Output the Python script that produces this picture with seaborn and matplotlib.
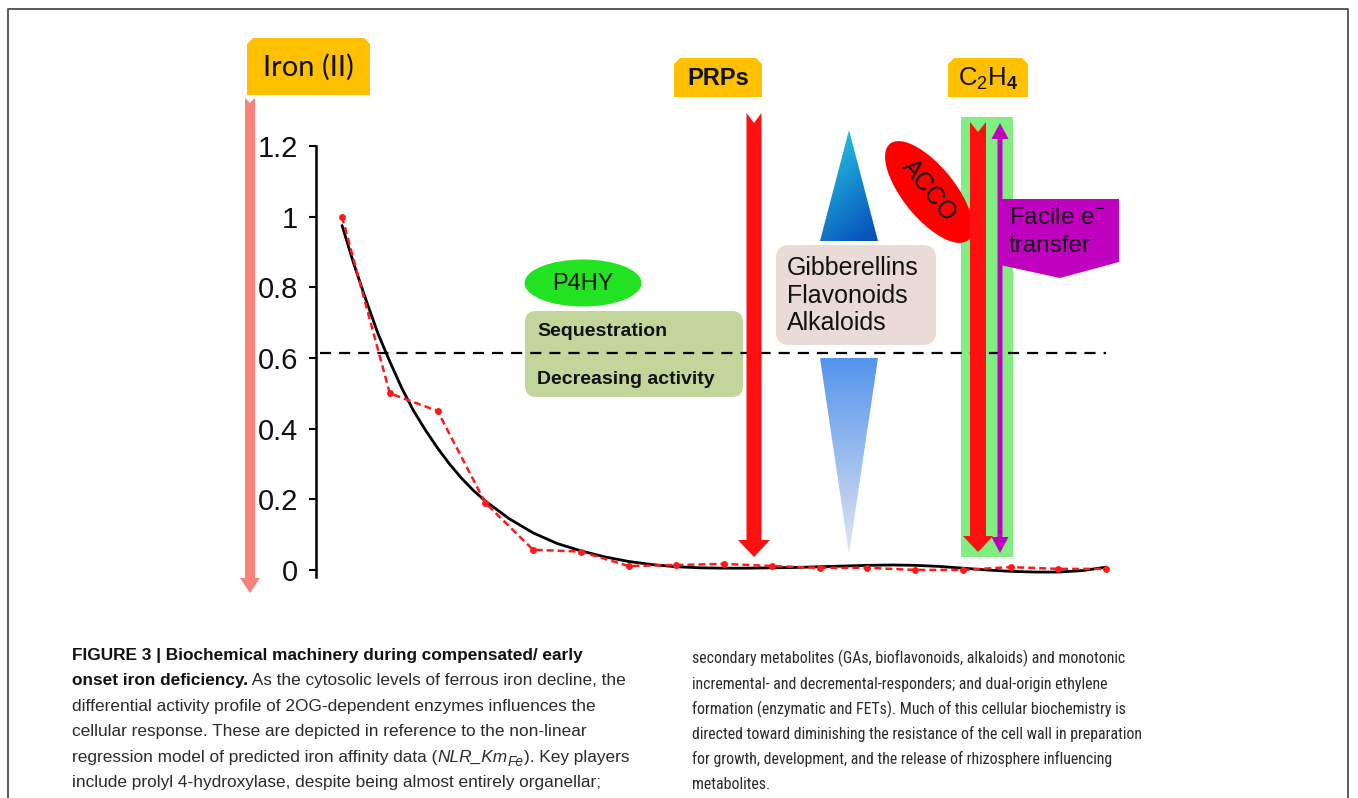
import numpy as np
import pandas as pd
import matplotlib
matplotlib.use("Agg")
import matplotlib.pyplot as plt
import seaborn as sns
from matplotlib import font_manager as fm
from matplotlib.patches import Polygon, Ellipse, FancyBboxPatch, Rectangle

# ---------------- data ----------------
obs_x = [1, 2, 3, 4, 5, 6, 7, 8, 9, 10, 11, 12, 13, 14, 15, 16, 17]
obs_y = [1.00, 0.50, 0.45, 0.19, 0.057, 0.052, 0.011, 0.014, 0.017, 0.011,
         0.006, 0.006, 0.000, 0.000, 0.008, 0.003, 0.003]

fit_x = [1.0, 1.25, 1.5, 1.75, 2.0, 2.25, 2.5, 2.75, 3.0, 3.25, 3.5, 3.75,
         4.0, 4.5, 5.0, 5.5, 6.0, 6.5, 7.0, 7.5, 8.0, 8.5, 9.0, 9.5, 10.0,
         10.5, 11.0, 11.5, 12.0, 12.5, 13.0, 13.5, 14.0, 14.5, 15.0, 15.5,
         16.0, 16.5, 17.0]
fit_y = [0.975, 0.865, 0.765, 0.67, 0.59, 0.515, 0.45, 0.395, 0.345, 0.30,
         0.26, 0.225, 0.195, 0.145, 0.105, 0.075, 0.054, 0.037, 0.024, 0.015,
         0.009, 0.006, 0.005, 0.005, 0.006, 0.007, 0.009, 0.011, 0.013, 0.014,
         0.013, 0.010, 0.005, 0.000, -0.004, -0.006, -0.006, -0.002, 0.008]

threshold_y = 0.615
y_ticks = [0, 0.2, 0.4, 0.6, 0.8, 1.0, 1.2]
y_tick_labels = ["0", "0.2", "0.4", "0.6", "0.8", "1", "1.2"]

caption_left = [
    [("FIGURE 3 | Biochemical machinery during compensated/ early", "bold")],
    [("onset iron deficiency.", "bold"),
     (" As the cytosolic levels of ferrous iron decline, the", "normal")],
    [("differential activity profile of 2OG-dependent enzymes influences the", "normal")],
    [("cellular response. These are depicted in reference to the non-linear", "normal")],
    [("regression model of predicted iron affinity data (", "normal"),
     ("NLR_Km", "italic"), ("Fe", "italic_sub"), ("). Key players", "normal")],
    [("include prolyl 4-hydroxylase, despite being almost entirely organellar;", "normal")],
]
caption_right = [
    [("secondary metabolites (GAs, bioflavonoids, alkaloids) and monotonic", "normal")],
    [("incremental- and decremental-responders; and dual-origin ethylene", "normal")],
    [("formation (enzymatic and FETs). Much of this cellular biochemistry is", "normal")],
    [("directed toward diminishing the resistance of the cell wall in preparation", "normal")],
    [("for growth, development, and the release of rhizosphere influencing", "normal")],
    [("metabolites.", "normal")],
]

# ---------------- style ----------------
sns.set_theme(style="white")
plt.rcParams['font.family'] = ['Liberation Sans', 'DejaVu Sans']
plt.rcParams['mathtext.fontset'] = 'custom'
plt.rcParams['mathtext.rm'] = 'Liberation Sans'
plt.rcParams['mathtext.it'] = 'Liberation Sans:italic'
plt.rcParams['mathtext.bf'] = 'Liberation Sans:bold'


def pick_condensed():
    names = {f.name for f in fm.fontManager.ttflist}
    for p in ["Liberation Sans Narrow", "Arial Narrow", "Roboto Condensed",
              "Open Sans Condensed", "Noto Sans Condensed", "DejaVu Sans Condensed"]:
        if p in names:
            return [p, "Liberation Sans", "DejaVu Sans"], "normal"
    for fam in ["Noto Sans", "Open Sans", "Roboto", "DejaVu Sans"]:
        for f in fm.fontManager.ttflist:
            if f.name == fam and str(f.stretch) in ("condensed", "semi-condensed"):
                return [fam, "Liberation Sans", "DejaVu Sans"], "condensed"
    return ["Liberation Sans", "DejaVu Sans"], "normal"


narrow_family, narrow_stretch = pick_condensed()

W, H = 1358, 798
fig = plt.figure(figsize=(W / 100, H / 100), dpi=100, facecolor='white')


def px_axes(z):
    a = fig.add_axes([0, 0, 1, 1], zorder=z)
    a.set_xlim(0, W)
    a.set_ylim(H, 0)
    a.axis('off')
    return a


back = px_axes(0)

# ---------------- data axes ----------------
ax_l, ax_r, ax_t, ax_b = 316, 1130, 146, 577
ax = fig.add_axes([ax_l / W, 1 - ax_b / H, (ax_r - ax_l) / W, (ax_b - ax_t) / H], zorder=1)
ax.set_facecolor('none')

df_fit = pd.DataFrame({"x": fit_x, "y": fit_y})
df_obs = pd.DataFrame({"x": obs_x, "y": obs_y})
sns.lineplot(data=df_fit, x="x", y="y", color="black", lw=2.0, ax=ax, zorder=3)
sns.lineplot(data=df_obs, x="x", y="y", color="#FF1A1A", lw=1.8,
             linestyle=(0, (2.8, 1.6)), marker="o", markersize=5,
             markeredgewidth=0, ax=ax, zorder=4)
ax.axhline(threshold_y, xmin=0.005, xmax=0.97, color="black", lw=1.6,
           linestyle=(0, (5, 3.6)), zorder=2)

ax.set_xlim(0.455, 17.5)
ax.set_ylim(-0.02, 1.2)
ax.set_xticks([])
ax.set_yticks(y_ticks)
ax.set_yticklabels(y_tick_labels, fontsize=21, color="#111111")
ax.tick_params(axis="y", left=True, direction="out", length=5, width=1.5,
               color="black", pad=8)
ax.set_xlabel("")
ax.set_ylabel("")
sns.despine(ax=ax, top=True, right=True, bottom=True)
ax.spines["left"].set_color("black")
ax.spines["left"].set_linewidth(1.8)

front = px_axes(2)

# ---------------- background decorations ----------------
back.plot([8, 8, 1348, 1348], [H + 2, 9, 9, H + 2], color="#4d4d4d", lw=1.3, zorder=1)

back.add_patch(FancyBboxPatch((525, 311), 218, 86,
                              boxstyle="round,pad=0,rounding_size=11",
                              fc="#C2D59B", ec="none", zorder=2))
back.add_patch(Ellipse((583, 283), 117, 47, fc="#22E322", ec="none", zorder=2))
back.add_patch(FancyBboxPatch((776, 245), 160, 100,
                              boxstyle="round,pad=0,rounding_size=13",
                              fc="#EBDBD7", ec="none", zorder=2))


def gradient_poly(axh, pts, c_a, c_b, wy, wx, z):
    poly = Polygon(pts, closed=True, fc="none", ec="none", zorder=z)
    axh.add_patch(poly)
    xs = [p[0] for p in pts]
    ys = [p[1] for p in pts]
    x0, x1, y0, y1 = min(xs), max(xs), min(ys), max(ys)
    ty = np.linspace(0, 1, 200)[:, None]
    tx = np.linspace(0, 1, 60)[None, :]
    t = np.clip(wy * ty + wx * tx, 0, 1)[..., None]
    img = np.array(c_a)[None, None, :] * (1 - t) + np.array(c_b)[None, None, :] * t
    im = axh.imshow(img, extent=(x0, x1, y1, y0), origin="upper", aspect="auto",
                    zorder=z, interpolation="bilinear")
    im.set_clip_path(poly)


gradient_poly(back, [(849, 130), (878, 241), (820, 241)],
              (0.16, 0.82, 0.90), (0.03, 0.33, 0.74), 0.75, 0.35, 2)
gradient_poly(back, [(820, 358), (878, 358), (849, 554)],
              (0.33, 0.58, 0.93), (0.88, 0.90, 0.95), 1.0, 0.0, 2)

back.add_patch(Rectangle((961, 117), 52, 440, fc="#80EE80", ec="none", zorder=2))
back.add_patch(Polygon([(1000, 199), (1119, 199), (1119, 262), (1060, 278), (1000, 265)],
                       closed=True, fc="#BF00BF", ec="none", zorder=2))
back.add_patch(Ellipse((929, 192), 124, 52, angle=51, fc="#FF0000", ec="none", zorder=3))

# ---------------- foreground decorations ----------------


def down_arrow(axh, cx, top, tip, shaft_w, head_w, head_len, notch, color, z=5):
    hw, hh = shaft_w / 2, head_w / 2
    pts = [(cx - hw, top), (cx, top + notch), (cx + hw, top),
           (cx + hw, tip - head_len), (cx + hh, tip - head_len), (cx, tip),
           (cx - hh, tip - head_len), (cx - hw, tip - head_len)]
    axh.add_patch(Polygon(pts, closed=True, fc=color, ec="none", zorder=z))


def double_arrow(axh, cx, top, bottom, shaft_w, head_w, head_len, color, z=5):
    hw, hh = shaft_w / 2, head_w / 2
    pts = [(cx, top), (cx + hh, top + head_len), (cx + hw, top + head_len),
           (cx + hw, bottom - head_len), (cx + hh, bottom - head_len), (cx, bottom),
           (cx - hh, bottom - head_len), (cx - hw, bottom - head_len),
           (cx - hw, top + head_len), (cx - hh, top + head_len)]
    axh.add_patch(Polygon(pts, closed=True, fc=color, ec="none", zorder=z))


def tag(axh, x0, y0, x1, y1, text, c=6, **kw):
    pts = [(x0, y1), (x0, y0 + c), (x0 + c, y0), (x1 - c, y0), (x1, y0 + c), (x1, y1)]
    axh.add_patch(Polygon(pts, closed=True, fc="#FFC000", ec="none", zorder=5))
    axh.text((x0 + x1) / 2, (y0 + y1) / 2 + 1, text, ha="center", va="center",
             zorder=6, color="#111111", **kw)


down_arrow(front, 250, 98, 593, 10, 20, 15, 5, "#F7827B")
down_arrow(front, 754, 113, 557, 15, 32, 17, 10, "#FF0F0F")
down_arrow(front, 978, 122, 552, 16, 30, 16, 10, "#FF0F0F")
double_arrow(front, 1000, 123, 553, 5, 17, 16, "#BF00BF")

tag(front, 247, 38, 370, 95, "Iron (II)", fontsize=21,
    family=["Lato", "Liberation Sans", "DejaVu Sans"])
tag(front, 674, 58, 762, 97, "PRPs", fontsize=17, fontweight="bold")
tag(front, 948, 58, 1028, 97, r"C$_2$H$_\mathbf{4}$", fontsize=18.5)

front.text(583, 284, "P4HY", ha="center", va="center", fontsize=17, color="#111111", zorder=6)
front.text(537, 331, "Sequestration", ha="left", va="center", fontsize=14,
           fontweight="bold", color="#111111", zorder=6)
front.text(537, 379, "Decreasing activity", ha="left", va="center", fontsize=14,
           fontweight="bold", color="#111111", zorder=6)
for lab, yy in zip(["Gibberellins", "Flavonoids", "Alkaloids"], [268, 296, 323]):
    front.text(787, yy, lab, ha="left", va="center", fontsize=18, color="#111111", zorder=6)
front.text(929, 191, "ACCO", ha="center", va="center", fontsize=18, rotation=-51,
           rotation_mode="anchor", color="#111111", zorder=6)
front.text(1009, 218, r"Facile e$^{-}$", ha="left", va="center", fontsize=17.5,
           color="#111111", zorder=6)
front.text(1009, 246, "transfer", ha="left", va="center", fontsize=17.5,
           color="#111111", zorder=6)

# ---------------- caption ----------------
renderer = fig.canvas.get_renderer()


def text_width(s, **kw):
    t1 = front.text(0, 0, s + "x", **kw)
    t2 = front.text(0, 0, "x", **kw)
    w = t1.get_window_extent(renderer).width - t2.get_window_extent(renderer).width
    t1.remove()
    t2.remove()
    return w


def style_kw(style, size, family, stretch):
    kw = dict(fontsize=size, family=family, fontstretch=stretch, color="#2b2b2b")
    if style == "bold":
        kw.update(fontweight="bold", color="#111111")
    elif style == "italic":
        kw.update(fontstyle="italic")
    elif style == "italic_sub":
        kw.update(fontstyle="italic", fontsize=size * 0.8)
    return kw


def draw_line(x0, yb, segs, size, family, stretch):
    x = x0
    for s, st in segs:
        kw = style_kw(st, size, family, stretch)
        dy = 4 if st == "italic_sub" else 0
        front.text(x, yb + dy, s, ha="left", va="baseline", zorder=6, **kw)
        x += text_width(s, **kw)


regular_family = ["Liberation Sans", "DejaVu Sans"]
left_size = 12.4
# right column: narrower face, sized so its longest line spans the measured width
right_size = 10 * 450 / text_width(caption_right[3][0][0],
                                   **style_kw("normal", 10, narrow_family, narrow_stretch))

left_baselines = [660, 685, 711, 736, 762, 787]
for segs, yb in zip(caption_left, left_baselines):
    draw_line(72, yb, segs, left_size, regular_family, "normal")

right_baselines = [663, 689, 714, 739, 764, 789]
for segs, yb in zip(caption_right, right_baselines):
    draw_line(692, yb, segs, right_size, narrow_family, narrow_stretch)

for a in (back, front):
    a.set_xlim(0, W)
    a.set_ylim(H, 0)

fig.savefig("out.png", dpi=100, facecolor="white")
